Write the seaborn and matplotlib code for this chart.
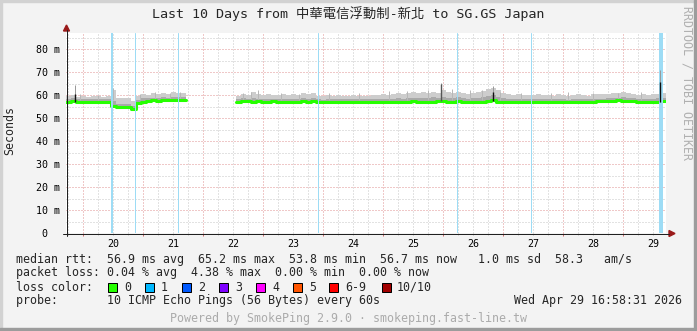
import numpy as np
import pandas as pd
import matplotlib
matplotlib.use("Agg")
import matplotlib.pyplot as plt
import seaborn as sns
from matplotlib.patches import Polygon, Rectangle
from matplotlib.lines import Line2D

nan = float("nan")

# ---------------- data ----------------
START_DAY = 19.7167          # left edge of graph (Apr 19 ~17:10), in "day of April"
STEP_DAYS = 1 / 12           # one sample every 2 hours

median_rtt = [
    57.0, 57.3, 57.0, 56.9, 57.0, 57.1, 56.9, 57.0, 57.0, 55.2, 54.9, 55.0,
    55.0, 54.0, 56.6, 57.2, 57.6, 57.7, 57.6, 57.8, 57.7, 57.9, 57.8, 58.0,
    nan, nan, nan, nan, nan, nan, nan, nan, nan, nan, 57.2, 57.4,
    57.3, 57.2, 57.4, 57.1, 57.2, 57.3, 57.1, 57.2, 57.0, 57.2, 57.1, 57.3,
    57.2, 57.4, 57.0, 56.9, 57.1, 57.0, 57.2, 57.1, 57.0, 57.2, 57.1, 57.0,
    57.1, 57.0, 57.2, 57.1, 57.0, 57.1, 57.2, 57.0, 57.1, 57.3, 57.1, 57.2,
    57.2, 57.1, 57.3, 57.4, 57.2, 57.1, 57.3, 57.2, 57.0, 57.1, 57.2, 57.1,
    57.3, 57.8, 57.2, 57.1, 57.0, 57.1, 57.0, 57.2, 57.1, 57.0, 57.1, 57.2,
    57.1, 57.0, 57.2, 57.1, 57.0, 57.1, 57.2, 57.1, 57.0, 57.2, 57.3, 57.4,
    57.5, 57.6, 57.7, 57.6, 57.5, 57.4, 57.2, 57.1, 57.0, 57.1, 57.2, 57.3,
]
smoke_hi = [
    59.4, 60.2, 59.3, 59.6, 59.2, 59.5, 59.4, 59.3, 59.8, 62.0, 58.6, 58.9,
    58.7, 57.6, 59.8, 60.4, 60.2, 60.8, 60.5, 60.9, 60.6, 61.3, 60.7, 61.0,
    nan, nan, nan, nan, nan, nan, nan, nan, nan, nan, 59.8, 60.3,
    60.1, 61.2, 60.4, 60.0, 60.6, 60.2, 60.0, 60.5, 59.9, 60.3, 60.1, 60.7,
    60.4, 61.0, 59.8, 59.6, 59.9, 59.7, 60.2, 59.8, 59.6, 60.0, 59.8, 59.7,
    59.8, 60.1, 59.9, 60.3, 60.0, 60.4, 60.8, 60.5, 61.0, 61.4, 60.9, 61.2,
    61.0, 61.5, 60.8, 62.0, 61.3, 60.9, 61.4, 61.0, 60.6, 60.9, 61.2, 61.8,
    62.5, 63.2, 62.0, 60.8, 60.3, 60.0, 60.4, 60.1, 59.9, 60.2, 60.3, 60.0,
    60.1, 59.8, 60.4, 60.0, 59.7, 60.2, 60.5, 60.0, 59.8, 60.3, 60.6, 60.4,
    60.6, 60.8, 60.9, 61.3, 60.7, 60.5, 60.2, 60.4, 60.0, 60.3, 60.6, 61.0,
]
smoke_mid = [
    58.2, 58.6, 58.1, 58.3, 58.2, 58.2, 58.3, 58.1, 58.4, 57.5, 56.3, 56.2,
    56.1, 55.2, 58.0, 58.6, 58.8, 58.9, 58.8, 59.0, 58.9, 59.2, 59.0, 59.2,
    nan, nan, nan, nan, nan, nan, nan, nan, nan, nan, 58.3, 58.6,
    58.4, 58.6, 58.5, 58.3, 58.5, 58.4, 58.2, 58.5, 58.2, 58.4, 58.3, 58.6,
    58.4, 58.7, 58.1, 58.0, 58.2, 58.1, 58.3, 58.2, 58.1, 58.3, 58.2, 58.1,
    58.2, 58.3, 58.2, 58.4, 58.2, 58.5, 58.6, 58.4, 58.7, 58.9, 58.6, 58.8,
    58.8, 59.0, 58.7, 59.3, 58.9, 58.7, 59.0, 58.8, 58.5, 58.7, 58.9, 59.2,
    59.5, 60.0, 59.3, 58.6, 58.3, 58.2, 58.4, 58.3, 58.1, 58.3, 58.4, 58.2,
    58.2, 58.1, 58.4, 58.2, 58.0, 58.3, 58.4, 58.2, 58.1, 58.3, 58.5, 58.5,
    58.7, 58.8, 58.9, 59.0, 58.8, 58.6, 58.4, 58.5, 58.2, 58.4, 58.6, 58.8,
]
smoke_lo = [
    56.3, 56.5, 56.2, 56.1, 56.3, 56.4, 56.2, 56.3, 56.2, 54.3, 54.2, 54.3,
    54.2, 53.3, 55.9, 56.5, 56.8, 56.9, 56.8, 57.0, 56.9, 57.1, 57.0, 57.2,
    nan, nan, nan, nan, nan, nan, nan, nan, nan, nan, 56.4, 56.6,
    56.5, 56.4, 56.6, 56.3, 56.4, 56.5, 56.3, 56.4, 56.2, 56.4, 56.3, 56.5,
    56.4, 56.6, 56.2, 56.1, 56.3, 56.2, 56.4, 56.3, 56.2, 56.4, 56.3, 56.2,
    56.3, 56.2, 56.4, 56.3, 56.2, 56.3, 56.4, 56.2, 56.3, 56.5, 56.3, 56.4,
    56.4, 56.3, 56.5, 56.6, 56.4, 56.3, 56.5, 56.4, 56.2, 56.3, 56.4, 56.3,
    56.5, 56.9, 56.4, 56.3, 56.2, 56.3, 56.2, 56.4, 56.3, 56.2, 56.3, 56.4,
    56.3, 56.2, 56.4, 56.3, 56.2, 56.3, 56.4, 56.3, 56.2, 56.4, 56.5, 56.6,
    56.7, 56.8, 56.9, 56.8, 56.7, 56.6, 56.4, 56.3, 56.2, 56.3, 56.4, 56.5,
]

# sharp median spikes and their smoke
spike_days = [19.867, 25.967, 26.833, 29.617]
spike_base = [57.0, 57.4, 57.4, 57.1]
spike_median_top = [60.5, 64.8, 61.3, 65.8]
spike_smoke_top = [64.2, 65.2, 63.8, 70.9]

# thin grey smoke spikes
gspike_days = [19.95, 20.25, 20.5, 20.95, 21.2, 21.45, 21.62, 22.667, 22.8, 22.917,
               23.3, 23.6, 24.1, 24.6, 25.1, 25.4, 25.75, 26.15, 26.45, 26.65,
               26.95, 27.3, 27.8, 28.083, 28.5, 28.917, 29.3]
gspike_tops = [60.4, 60.2, 62.9, 60.4, 61.2, 60.9, 61.5, 60.9, 61.3, 62.0,
               61.0, 60.6, 60.7, 61.0, 61.6, 61.8, 62.0, 62.5, 62.0, 62.3,
               61.5, 60.8, 60.7, 61.2, 60.9, 61.1, 61.4]

# packet-loss markers (1/10 loss)
loss_days = [20.483, 20.867, 21.583, 23.917, 26.233, 27.467, 29.628]

day_labels = ["20", "21", "22", "23", "24", "25", "26", "27", "28", "29"]
y_ticks = [0, 10, 20, 30, 40, 50, 60, 70, 80]
y_tick_labels = ["0  ", "10 m", "20 m", "30 m", "40 m", "50 m", "60 m", "70 m", "80 m"]

title = "Last 10 Days from 中華電信浮動制-新北 to SG.GS Japan"
legend_lines = [
    "median rtt:  56.9 ms avg  65.2 ms max  53.8 ms min  56.7 ms now   1.0 ms sd  58.3   am/s",
    "packet loss: 0.04 % avg  4.38 % max  0.00 % min  0.00 % now",
    "loss color:",
    "probe:       10 ICMP Echo Pings (56 Bytes) every 60s",
]
loss_labels = ["0", "1", "2", "3", "4", "5", "6-9", "10/10"]
loss_colors = ["#26ff00", "#00b8ff", "#0059ff", "#7e00ff", "#ff00ff", "#ff5500", "#ff0000", "#a10000"]
date_text = "Wed Apr 29 16:58:31 2026"
footer = "Powered by SmokePing 2.9.0 · smokeping.fast-line.tw"
side_text = "RRDTOOL / TOBI OETIKER"

# ---------------- style ----------------
sns.set_style("white")
plt.rcParams["font.family"] = ["DejaVu Sans Mono", "Noto Sans CJK TC"]

W, H = 697, 331
BG = "#f3f3f3"
fig = plt.figure(figsize=(W / 100, H / 100), dpi=100, facecolor=BG)

def fx(x):
    return x / W

def fy(y):
    return 1 - y / H

ax = fig.add_axes([fx(66), fy(233), 600 / W, 200 / H])
ax.set_facecolor("white")
ax.set_xlim(START_DAY, START_DAY + 10)
ax.set_ylim(0, 87)
for s in ax.spines.values():
    s.set_visible(False)

PX = 0.72  # one pixel in points
major_c = "#e09393"
minor_c = "#c6c6c6"

# grid
days_minor = np.arange(19.75, 29.75, 0.25)
for d in days_minor:
    if abs(d - round(d)) < 1e-6:
        continue
    ax.axvline(d, color=minor_c, lw=PX, ls=(0, (1, 2)), zorder=0)
for d in range(20, 30):
    ax.axvline(d, color=major_c, lw=PX, ls=(0, (1, 2)), zorder=0)
for v in range(5, 87, 10):
    ax.axhline(v, color=minor_c, lw=PX, ls=(0, (1, 2)), zorder=0)
for v in range(10, 87, 10):
    ax.axhline(v, color=major_c, lw=PX, ls=(0, (1, 2)), zorder=0)

# tick marks below axis
ax.vlines(range(20, 30), -1.4, 0, color="#d07070", lw=PX, clip_on=False)
ax.vlines([d for d in days_minor if abs(d - round(d)) > 1e-6], -0.9, 0,
          color="#bbbbbb", lw=PX, clip_on=False)

# smoke (step data)
edges = START_DAY + STEP_DAYS * np.arange(len(median_rtt) + 1)
xs = np.repeat(edges, 2)[1:-1]
def stepped(v):
    return np.repeat(np.asarray(v, dtype=float), 2)

med_s = stepped(median_rtt)
hi_s = stepped(smoke_hi)
mid_s = stepped(smoke_mid)
lo_s = stepped(smoke_lo)
ok = np.isfinite(med_s)
ax.fill_between(xs, lo_s, hi_s, where=ok, color="#cdcdcd", lw=0, zorder=2)
ax.fill_between(xs, lo_s, mid_s, where=ok, color="#a9a9a9", lw=0, zorder=2)

ax.vlines(gspike_days, [58.0] * len(gspike_days), gspike_tops, color="#b8b8b8", lw=PX, zorder=2)

# median line (seaborn)
seg = np.cumsum(~np.isfinite(np.asarray(median_rtt, dtype=float)))
seg_s = np.repeat(seg, 2)
df = pd.DataFrame({"day": xs, "rtt": med_s, "seg": seg_s}).dropna()
sns.lineplot(data=df, x="day", y="rtt", units="seg", estimator=None, sort=False,
             color="#26ff00", lw=2.2, ax=ax, legend=False, zorder=4)

# loss markers
loss_lw = [2, 1, 1, 1, 1, 1, 4]
for d, w in zip(loss_days, loss_lw):
    ax.axvline(d, color="#9ddcf5", lw=w * PX, zorder=6)

# spikes drawn above loss markers
ax.vlines(spike_days, spike_base, spike_smoke_top, color="#9a9a9a", lw=PX, zorder=7)
spike_cols = ["#111111", "#555555", "#111111", "#111111"]
ax.vlines(spike_days, spike_base, spike_median_top, colors=spike_cols, lw=PX * 1.4, zorder=8)

# ticks / labels
ax.set_xticks([d + 0.5 for d in range(20, 30)], day_labels)
ax.set_yticks(y_ticks, y_tick_labels)
ax.tick_params(axis="both", length=0, labelsize=7.2, colors="black")
ax.tick_params(axis="x", pad=4.0)
ax.tick_params(axis="y", pad=4.3)
ax.set_xlabel("")
ax.set_ylabel("")

# axes lines + arrows (figure pixel coords)
ax_c = "#202020"
arrow_c = "#9a1a1a"
fig.add_artist(Line2D([fx(66.5), fx(66.5)], [fy(236), fy(30)], color=ax_c, lw=PX))
fig.add_artist(Line2D([fx(63), fx(669)], [fy(233.5), fy(233.5)], color=ax_c, lw=PX))
fig.add_artist(Polygon([[fx(63.5), fy(31)], [fx(69.5), fy(31)], [fx(66.5), fy(25)]],
                       closed=True, color=arrow_c, transform=fig.transFigure))
fig.add_artist(Polygon([[fx(669), fy(230.5)], [fx(669), fy(236.5)], [fx(675), fy(233.5)]],
                       closed=True, color=arrow_c, transform=fig.transFigure))

# frame
fig.add_artist(Rectangle((0, 0), fx(2), 1, color="#d2d2d2", transform=fig.transFigure))
fig.add_artist(Rectangle((0, fy(2)), 1, 2 / H, color="#d2d2d2", transform=fig.transFigure))
fig.add_artist(Rectangle((fx(694), 0), 3 / W, 1, color="#9c9c9c", transform=fig.transFigure))
fig.add_artist(Rectangle((0, 0), 1, 3 / H, color="#9c9c9c", transform=fig.transFigure))

# texts
fig.text(fx(348.5), fy(14), title, ha="center", va="center", fontsize=9.6,
         family=["DejaVu Sans Mono", "Noto Sans CJK TC"])
fig.text(fx(9.5), fy(130), "Seconds", rotation=90, ha="center", va="center", fontsize=8.4)
fig.text(fx(686.5), fy(83), side_text, rotation=270, ha="center", va="center",
         fontsize=8.4, color="#b0b0b0")

LEG_FS = 8.42
line_y = [259.3, 272.7, 287.3, 300.7]
for txt, y in zip(legend_lines, line_y):
    fig.text(fx(15.8), fy(y), txt, ha="left", va="center", fontsize=LEG_FS)
fig.text(fx(682), fy(300.7), date_text, ha="right", va="center", fontsize=LEG_FS)

box_x = [108, 145, 182, 219, 256, 293, 329, 382]
lab_x = [124, 161, 198, 235, 272, 309, 345, 397]
for bx, lx, lab, col in zip(box_x, lab_x, loss_labels, loss_colors):
    fig.add_artist(Rectangle((fx(bx), fy(291.5)), 9 / W, 9 / H, facecolor=col,
                             edgecolor="black", lw=PX, transform=fig.transFigure))
    fig.text(fx(lx), fy(287.3), lab, ha="left", va="center", fontsize=LEG_FS)

fig.text(fx(348.7), fy(318.3), footer, ha="center", va="center", fontsize=LEG_FS, color="#ababab")

fig.savefig("out.png", dpi=100, facecolor=BG)
